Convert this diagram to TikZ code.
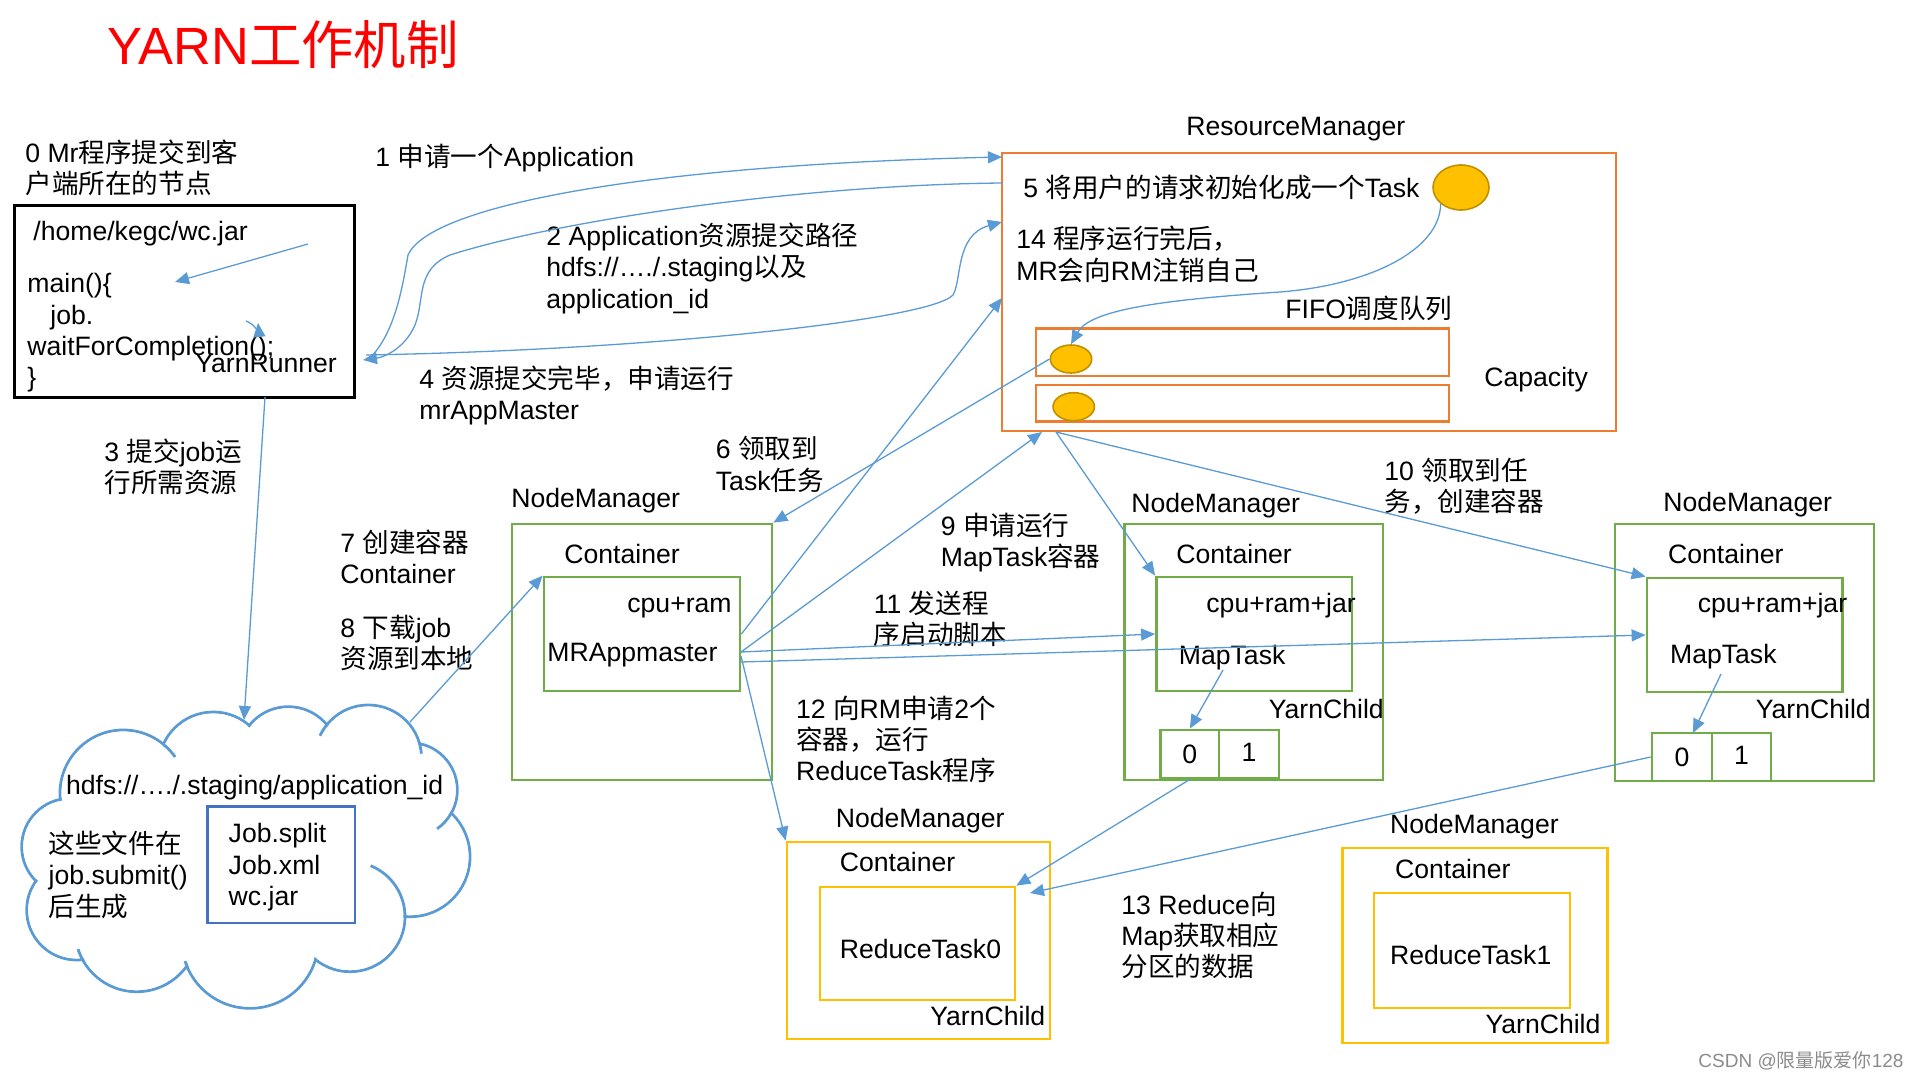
\documentclass[tikz,border=0pt]{standalone}
\usepackage{fontspec}
\setmainfont{Liberation Sans}
\newfontfamily\cjkfont{Noto Sans CJK SC}
\newcommand{\zhc}[1]{{\cjkfont #1}}
\newcommand{\bodyfont}{\fontsize{13.3pt}{15.7pt}\selectfont}
\usetikzlibrary{arrows.meta,fit,shapes.geometric}
\definecolor{rmorange}{HTML}{ED7D31}
\definecolor{nmgreen}{HTML}{70AD47}
\definecolor{rtyellow}{HTML}{FFC000}
\definecolor{lnblue}{HTML}{5B9BD5}
\definecolor{boxblue}{HTML}{4472C4}
\definecolor{taskedge}{HTML}{BF9000}
\begin{document}
\begin{tikzpicture}[x=0.5pt,y=-0.5pt,
  txt/.style={anchor=north west,inner sep=0pt,align=left,font=\bodyfont,execute at begin node={\rule{0pt}{12.5pt}}},
  dig/.style={inner sep=0pt,font=\bodyfont},
  frame/.style={draw=#1,line width=1.4pt,inner sep=0pt},
  task/.style={ellipse,draw=taskedge,fill=rtyellow,line width=0.8pt,inner sep=0pt},
  conn/.style={draw=lnblue,line width=0.65pt,-{Triangle[length=7pt,width=6pt]}},
  cloudln/.style={draw=lnblue,line width=1.4pt},
]
\fill[white] (0,0) rectangle (1920,1080);
\useasboundingbox (0,0) rectangle (1920,1080);

% title
\node[anchor=base west,inner sep=0pt,text=red,font=\fontsize{26.2pt}{30pt}\selectfont] (title) at (107,65) {YARN\zhc{工作机制}};

% client
\node[txt] (l0) at (25,139.5) {0 Mr\zhc{程序提交到客}\\\zhc{户端所在的节点}};
\node[frame=black,line width=1.5pt,fit={(14,206) (354,397)}] (client) {};
\node[txt] (jar) at (33,215) {/home/kegc/wc.jar};
\node[txt] (code) at (27,273) {main()\{\\\hspace*{11.5pt}job.\\waitForCompletion();\\\}};
\node[txt] (yr) at (195,346.7) {YarnRunner};

% cloud
\foreach \cx/\cy/\r in {123.3/793.3/63.3, 213.3/766.7/54.7, 288.3/756.7/50, 368.3/758.3/53.3, 410/790/47.3, 410/856.7/60, 350/916.7/55, 250/940/68.3, 136.7/930/61.7, 76.7/910/50, 70/846.7/48.3}
  \draw[cloudln] (\cx,\cy) circle[radius=\r];
\foreach \cx/\cy/\r in {123.3/793.3/63.3, 213.3/766.7/54.7, 288.3/756.7/50, 368.3/758.3/53.3, 410/790/47.3, 410/856.7/60, 350/916.7/55, 250/940/68.3, 136.7/930/61.7, 76.7/910/50, 70/846.7/48.3}
  \fill[white] (\cx,\cy) circle[radius=\r-1.6];
\fill[white] (123.3,793.3) -- (213.3,766.7) -- (288.3,756.7) -- (368.3,758.3) -- (410,790) -- (410,856.7) -- (350,916.7) -- (250,940) -- (136.7,930) -- (76.7,910) -- (70,846.7) -- cycle;
\draw[cloudln] (368.3,758.3) ++(221:53.3) arc[start angle=221,end angle=205,radius=53.3];
\draw[cloudln] (368.3,758.3) ++(345:53.3) arc[start angle=345,end angle=355,radius=53.3];
\draw[cloudln] (410,790) ++(30:47.3) arc[start angle=30,end angle=55,radius=47.3];
\draw[cloudln] (350,916.7) ++(360:55) arc[start angle=360,end angle=292,radius=55];
\draw[cloudln] (250,940) ++(155:68.3) arc[start angle=155,end angle=162,radius=68.3];
\draw[cloudln] (136.7,930) ++(150:61.7) arc[start angle=150,end angle=162,radius=61.7];
\draw[cloudln] (123.3,793.3) ++(310:63.3) arc[start angle=310,end angle=325,radius=63.3];
\node[txt] (hdfs) at (65.7,769.5) {hdfs://…./.staging/application\_id};
\node[frame=boxblue,line width=1.3pt,fit={(207.7,806.7) (355,923)}] (files) {};
\node[txt] (flist) at (228.3,823) {Job.split\\Job.xml\\wc.jar};
\node[txt] (gen) at (48.3,830.5) {\zhc{这些文件在}\\job.submit()\\\zhc{后生成}};

% step labels
\node[txt] (l1) at (375,141) {1 \zhc{申请一个}Application};
\node[txt] (l2) at (546,222.5) {2 Application\zhc{资源提交路径}\\hdfs://…./.staging\zhc{以及}\\application\_id};
\node[txt] (l4) at (419,365.5) {4 \zhc{资源提交完毕，申请运行}\\mrAppMaster};
\node[txt] (l3) at (104,438.5) {3 \zhc{提交}job\zhc{运}\\\zhc{行所需资源}};
\node[txt] (l6) at (715.5,436) {6 \zhc{领取到}\\Task\zhc{任务}};
\node[txt] (l7) at (340,529.5) {7 \zhc{创建容器}\\Container};
\node[txt] (l8) at (340,614.5) {8 \zhc{下载}job\\\zhc{资源到本地}};
\node[txt] (l9) at (940.5,512.5) {9 \zhc{申请运行}\\MapTask\zhc{容器}};
\node[txt] (l10) at (1384,457.3) {10 \zhc{领取到任}\\\zhc{务，创建容器}};
\node[txt] (l11) at (873.5,590.7) {11 \zhc{发送程}\\\zhc{序启动脚本}};
\node[txt] (l12) at (795.7,695.2) {12 \zhc{向}RM\zhc{申请}2\zhc{个}\\\zhc{容器，运行}\\ReduceTask\zhc{程序}};
\node[txt] (l13) at (1121,891.2) {13 Reduce\zhc{向}\\Map\zhc{获取相应}\\\zhc{分区的数据}};

% ResourceManager
\node[txt] (rmt) at (1186,110.5) {ResourceManager};
\node[frame=rmorange,fit={(1002,153) (1616,431)}] (rm) {};
\node[txt] (l5) at (1023,172) {5 \zhc{将用户的请求初始化成一个}Task};
\node[task,minimum width=28pt,minimum height=22.5pt] (tk) at (1461,187.5) {};
\node[txt] (l14) at (1016,226) {14 \zhc{程序运行完后，}\\MR\zhc{会向}RM\zhc{注销自己}};
\node[txt] (fifo) at (1285,293) {FIFO\zhc{调度队列}};
\node[frame=rmorange,fit={(1036,328.3) (1449,376)}] (q1) {};
\node[frame=rmorange,fit={(1036,385) (1449,421.7)}] (q2) {};
\node[task,minimum width=20.7pt,minimum height=14pt] (q1e) at (1071,359) {};
\node[task,minimum width=20.7pt,minimum height=14pt] (q2e) at (1073.7,406.7) {};
\node[txt] (cap) at (1484,361) {Capacity};

% NodeManager 1 (MRAppmaster)
\node[txt] (nm1t) at (511,482) {NodeManager};
\node[frame=nmgreen,fit={(512,524) (772,780)}] (nm1) {};
\node[txt] (nm1c) at (564,537.7) {Container};
\node[frame=nmgreen,fit={(544,577) (740,691)}] (am) {};
\node[txt] (amr) at (627,586.7) {cpu+ram};
\node[txt] (amt) at (547,635.7) {MRAppmaster};

% NodeManager 2
\node[txt] (nm2t) at (1131,487.5) {NodeManager};
\node[frame=nmgreen,fit={(1124.6,524) (1383,780)}] (nm2) {};
\node[txt] (nm2c) at (1176,537.7) {Container};
\node[frame=nmgreen,fit={(1156.5,577) (1352,691)}] (mt1) {};
\node[txt] (mt1r) at (1206,586.7) {cpu+ram+jar};
\node[txt] (mt1t) at (1178.5,639) {MapTask};
\node[txt] (yc1) at (1268.5,693) {YarnChild};
\node[frame=nmgreen,fit={(1160.7,730) (1219,778)}] (b10) {};
\node[frame=nmgreen,fit={(1219,730) (1279,778)}] (b11) {};
\node[dig] (d10) at (b10.center) {0};
\node[dig] (d11) at ([yshift=1pt]b11.center) {1};

% NodeManager 3
\node[txt] (nm3t) at (1663,485.7) {NodeManager};
\node[frame=nmgreen,fit={(1615,524) (1874,781)}] (nm3) {};
\node[txt] (nm3c) at (1667.7,537.7) {Container};
\node[frame=nmgreen,fit={(1647,578) (1842.5,692)}] (mt2) {};
\node[txt] (mt2r) at (1697.4,586.7) {cpu+ram+jar};
\node[txt] (mt2t) at (1669.7,638) {MapTask};
\node[txt] (yc2) at (1755.5,693) {YarnChild};
\node[frame=nmgreen,fit={(1652,733) (1712,781)}] (b20) {};
\node[frame=nmgreen,fit={(1712,733) (1771,781)}] (b21) {};
\node[dig] (d20) at (b20.center) {0};
\node[dig] (d21) at ([yshift=1pt]b21.center) {1};

% NodeManager 4 (ReduceTask0)
\node[txt] (nm4t) at (835.5,802) {NodeManager};
\node[frame=rtyellow,fit={(787,842) (1050,1039)}] (nm4) {};
\node[txt] (nm4c) at (839.5,846) {Container};
\node[frame=rtyellow,fit={(820,887) (1015,1000)}] (rt0) {};
\node[txt] (rt0t) at (839.5,933.3) {ReduceTask0};
\node[txt] (yc3) at (930,1000) {YarnChild};

% NodeManager 5 (ReduceTask1)
\node[txt] (nm5t) at (1389.7,808.3) {NodeManager};
\node[frame=rtyellow,fit={(1342.5,848) (1607.5,1043)}] (nm5) {};
\node[txt] (nm5c) at (1394.7,852.7) {Container};
\node[frame=rtyellow,fit={(1374,893) (1570,1008)}] (rt1) {};
\node[txt] (rt1t) at (1389.7,939.3) {ReduceTask1};
\node[txt] (yc4) at (1485.2,1007.7) {YarnChild};

% watermark
\node[anchor=base west,inner sep=0pt,text=black!45,font=\fontsize{9.5pt}{11pt}\selectfont] (wm) at (1698,1067.7) {CSDN @\zhc{限量版爱你}128};

% connector end points
\coordinate (c1s) at (372,356);
\coordinate (c1e) at (1002,157);
\coordinate (c2s) at (1002,183);
\coordinate (c2e) at (363,360);
\coordinate (c4s) at (366,355);
\coordinate (c4e) at (1002,222);
\coordinate (c3s) at (265,397);
\coordinate (c3e) at (244,720);
\coordinate (c8s) at (410,722);
\coordinate (c9ae) at (1002,298);
\coordinate (amA) at (741,652);
\coordinate (amB) at (741,662);
\coordinate (amC) at (741,656);
\coordinate (c9be) at (1042,432);
\coordinate (rmB) at (1056,432);
\coordinate (ci1s) at (308,244);
\coordinate (ci1e) at (175,282);
\coordinate (ci2s) at (246,321);
\coordinate (ci2e) at (258,323);
\coordinate (mt1s) at (1223,670);
\coordinate (mt2s) at (1721,674);
\coordinate (b20n) at (1693,733);
\coordinate (c13e) at (1030,893);

% connectors
\draw[conn] (c1s) .. controls (395,330) and (402,290) .. (408,255) .. controls (430,205) and (650,165) .. (c1e);
\draw[conn] (c2s) .. controls (800,185) and (560,220) .. (450,255) .. controls (415,270) and (425,300) .. (415,325) .. controls (405,348) and (385,357) .. (c2e);
\draw[conn] (c4s) .. controls (650,350) and (930,320) .. (953,295) .. controls (962,280) and (955,235) .. (c4e);
\draw[conn] (c3s) -- (c3e);
\draw[conn] (c8s) -- (am.north west);
\draw[conn] (ci1s) -- (ci1e);
\draw[conn] (ci2s) .. controls (256,325) and (259,333) .. (ci2e);
\draw[conn] (tk.south west) .. controls (1440,250) and (1370,285) .. (1280,292) .. controls (1160,300) and (1090,310) .. (q1e.north);
\draw[conn] (q1e.west) -- (nm1.north east);
\draw[conn] (am.east) -- (c9ae);
\draw[conn] (amA) -- (c9be);
\draw[conn] (amA) -- (mt1.west);
\draw[conn] (amB) -- (mt2.west);
\draw[conn] (amC) -- (nm4.north west);
\draw[conn] (rmB) -- (mt1.north west);
\draw[conn] (rmB) -- (mt2.north west);
\draw[conn] (mt1s) -- (b10.north);
\draw[conn] (mt2s) -- (b20n);
\draw[conn] (b10.south) -- (rt0.north east);
\draw[conn] (b20.west) -- (c13e);
\end{tikzpicture}
\end{document}
